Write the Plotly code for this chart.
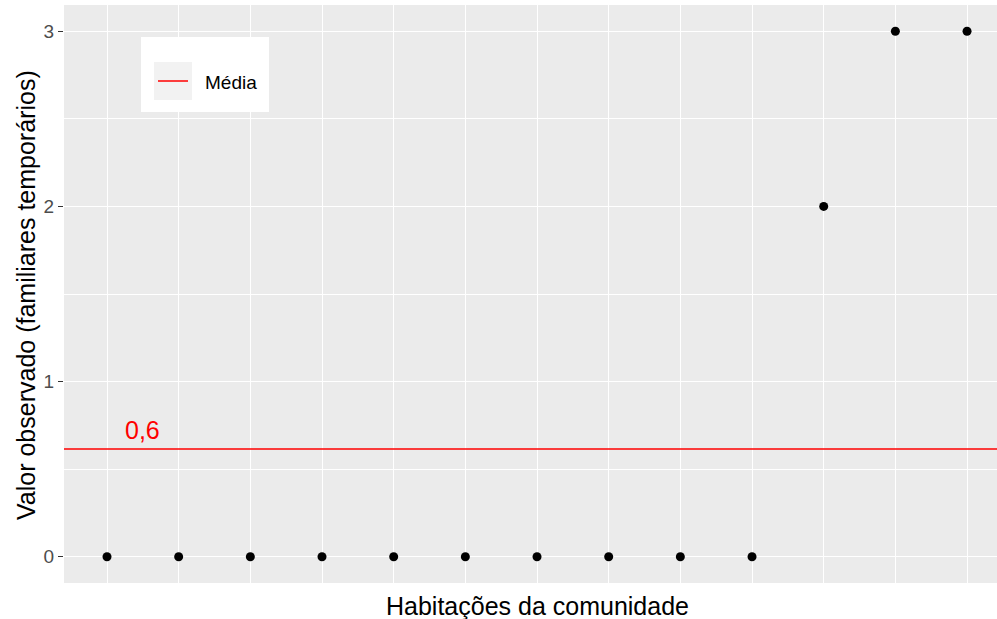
import plotly.graph_objects as go

habitacoes = list(range(1, 14))
valores = [0, 0, 0, 0, 0, 0, 0, 0, 0, 0, 2, 3, 3]
media = sum(valores) / len(valores)
rotulo_media = f"{media:.1f}".replace(".", ",")
y_ticks = [0, 1, 2, 3]
titulo_x = "Habitações da comunidade"
titulo_y = "Valor observado (familiares temporários)"

W, H = 997, 619
ml, mr, mt, mb = 64, 0, 5, 36
pw, ph = W - ml - mr, H - mt - mb
FONT = "Liberation Sans, Arial"

def px_x(p):
    return (p - ml) / pw

def px_y(p):
    return (H - mb - p) / ph

fig = go.Figure()

fig.add_trace(go.Scatter(
    x=[0.4, 13.6], y=[media, media], mode="lines",
    line=dict(color="#FF0000", width=1.5), name="Média", showlegend=False,
    hoverinfo="skip"))

fig.add_trace(go.Scatter(
    x=habitacoes, y=valores, mode="markers",
    marker=dict(color="black", size=9), showlegend=False))

fig.add_annotation(x=1.5, y=media + 0.11, text=rotulo_media, showarrow=False,
                   font=dict(color="#FF0000", size=25, family=FONT),
                   xanchor="center", yanchor="middle")

# manual legend (ggplot style)
fig.add_shape(type="rect", xref="paper", yref="paper",
              x0=px_x(141), x1=px_x(269), y0=px_y(112), y1=px_y(37),
              fillcolor="white", line=dict(width=0), layer="above")
fig.add_shape(type="rect", xref="paper", yref="paper",
              x0=px_x(154), x1=px_x(192), y0=px_y(100), y1=px_y(62),
              fillcolor="#F2F2F2", line=dict(width=0), layer="above")
fig.add_shape(type="line", xref="paper", yref="paper",
              x0=px_x(158), x1=px_x(188), y0=px_y(81), y1=px_y(81),
              line=dict(color="#FF0000", width=1.5), layer="above")
fig.add_annotation(xref="paper", yref="paper", x=px_x(203), y=px_y(82),
                   text="Média", showarrow=False, xanchor="left", yanchor="middle",
                   font=dict(size=19, color="black", family=FONT))

# axis titles
fig.add_annotation(xref="paper", yref="paper", x=px_x(537), y=px_y(606),
                   text=titulo_x, showarrow=False, xanchor="center", yanchor="middle",
                   font=dict(size=25, color="black", family=FONT))
fig.add_annotation(xref="paper", yref="paper", x=px_x(26), y=px_y(295),
                   text=titulo_y, showarrow=False, textangle=-90,
                   xanchor="center", yanchor="middle",
                   font=dict(size=25, color="black", family=FONT))

fig.update_layout(
    width=W, height=H,
    margin=dict(l=ml, r=mr, t=mt, b=mb),
    paper_bgcolor="white", plot_bgcolor="#EBEBEB",
    font=dict(family=FONT, color="black"),
    showlegend=False,
    xaxis=dict(range=[0.4, 0.4 + pw / 71.67], tickvals=habitacoes, showticklabels=False,
               ticks="", showgrid=True, gridcolor="white", gridwidth=1.4,
               zeroline=False, showline=False, automargin=False),
    yaxis=dict(range=[-0.15, 3.15], tickvals=y_ticks, ticktext=[str(v) for v in y_ticks],
               ticks="outside", ticklen=5, tickwidth=1.1, tickcolor="#333333",
               tickfont=dict(size=19, color="#4D4D4D"),
               showgrid=True, gridcolor="white", gridwidth=1.4,
               minor=dict(tickvals=[0.5, 1.5, 2.5], showgrid=True, gridcolor="white",
                          gridwidth=0.7, ticks=""),
               zeroline=False, showline=False, automargin=False),
)

fig.write_html("out.html", config={"displayModeBar": False},
               post_script="document.body.style.margin='0';")
